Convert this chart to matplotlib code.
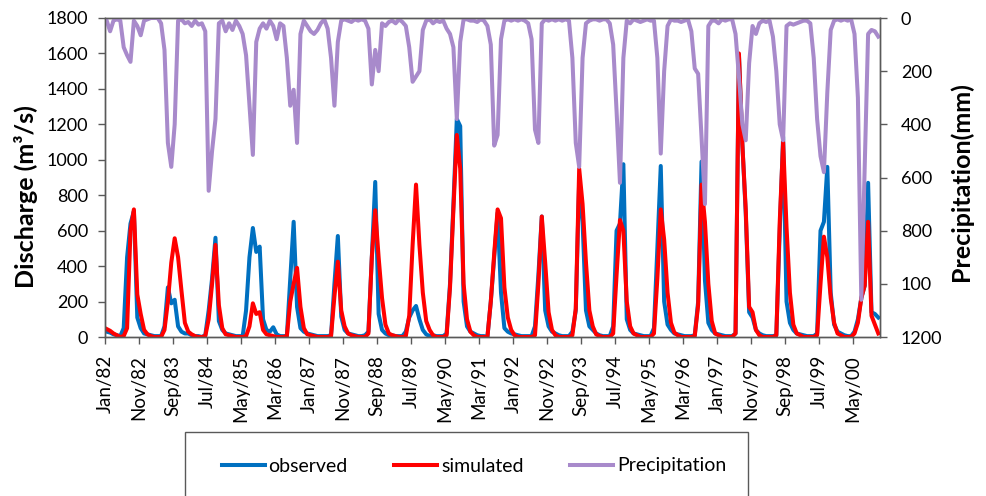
import matplotlib
matplotlib.use('Agg')
import matplotlib.pyplot as plt
import numpy as np
from matplotlib.patches import Rectangle

plt.rcParams['font.family'] = ['Lato', 'DejaVu Sans']

# monthly values, Jan 1982 .. Dec 2000 (one row per year)
observed = [
    30, 25, 15, 10, 5, 50, 450, 640, 710, 110, 50, 20,
    15, 10, 5, 5, 5, 60, 280, 190, 210, 60, 30, 20,
    20, 10, 5, 5, 0, 10, 150, 330, 560, 90, 40, 20,
    15, 10, 5, 5, 5, 150, 450, 615, 480, 510, 100, 40,
    30, 55, 15, 5, 5, 5, 330, 650, 170, 50, 30, 20,
    15, 10, 5, 5, 5, 5, 10, 300, 570, 115, 40, 20,
    15, 10, 5, 5, 10, 30, 450, 875, 130, 40, 20, 10,
    10, 5, 5, 5, 30, 110, 150, 175, 100, 40, 15, 5,
    10, 5, 5, 5, 20, 300, 750, 1230, 1190, 200, 60, 30,
    20, 10, 5, 5, 0, 200, 450, 700, 250, 50, 30, 20,
    15, 10, 5, 5, 5, 5, 60, 350, 680, 150, 60, 30,
    20, 10, 5, 5, 5, 30, 150, 880, 650, 150, 60, 40,
    20, 10, 5, 5, 5, 60, 600, 640, 975, 100, 40, 20,
    15, 10, 5, 5, 5, 50, 500, 965, 200, 70, 40, 20,
    15, 10, 5, 5, 5, 10, 200, 990, 320, 80, 40, 20,
    15, 10, 5, 5, 5, 20, 1590, 1090, 700, 140, 110, 40,
    20, 10, 5, 5, 5, 10, 600, 1130, 200, 80, 40, 20,
    15, 10, 5, 5, 5, 20, 600, 650, 960, 250, 70, 30,
    20, 10, 5, 5, 30, 100, 220, 290, 870, 140, 130, 110,
]

simulated = [
    45, 35, 20, 10, 0, 5, 50, 600, 720, 240, 130, 40,
    15, 5, 0, 0, 0, 40, 200, 420, 557, 450, 260, 80,
    30, 15, 5, 0, 0, 5, 100, 300, 520, 180, 50, 15,
    10, 5, 0, 0, 0, 5, 60, 190, 130, 140, 40, 15,
    10, 5, 0, 0, 0, 5, 200, 300, 390, 170, 50, 15,
    10, 5, 0, 0, 0, 0, 5, 230, 425, 150, 60, 20,
    10, 5, 0, 0, 0, 20, 450, 715, 450, 220, 70, 20,
    10, 5, 0, 0, 5, 120, 520, 860, 520, 250, 90, 40,
    10, 0, 0, 0, 10, 280, 720, 1140, 950, 300, 100, 30,
    10, 0, 0, 0, 0, 200, 470, 720, 670, 280, 110, 40,
    10, 0, 0, 0, 0, 0, 10, 300, 680, 420, 140, 40,
    10, 0, 0, 0, 0, 10, 160, 950, 750, 420, 150, 60,
    15, 5, 0, 0, 0, 20, 350, 660, 600, 200, 60, 20,
    10, 0, 0, 0, 0, 20, 330, 720, 550, 250, 80, 25,
    10, 0, 0, 0, 0, 5, 180, 860, 650, 300, 90, 20,
    10, 0, 0, 0, 0, 20, 1600, 1090, 720, 170, 140, 40,
    10, 0, 0, 0, 0, 10, 650, 1100, 620, 250, 70, 20,
    10, 0, 0, 0, 0, 10, 300, 566, 450, 220, 80, 20,
    10, 0, 0, 0, 20, 80, 220, 290, 650, 120, 70, 20,
]

precipitation = [
    10, 50, 10, 5, 10, 110, 140, 165, 10, 30, 65, 10,
    5, 0, 0, 0, 20, 120, 470, 560, 400, 10, 5, 20,
    15, 30, 10, 25, 20, 50, 650, 500, 380, 20, 10, 50,
    20, 45, 10, 30, 60, 140, 330, 515, 90, 40, 20, 40,
    10, 30, 80, 20, 30, 150, 330, 270, 470, 60, 10, 30,
    50, 60, 45, 20, 5, 40, 150, 330, 90, 10, 5, 10,
    15, 5, 10, 5, 10, 40, 250, 120, 200, 20, 30, 15,
    10, 20, 5, 15, 30, 110, 240, 220, 200, 45, 10, 5,
    20, 10, 15, 10, 40, 60, 110, 380, 90, 5, 5, 10,
    10, 15, 5, 10, 30, 100, 480, 440, 80, 10, 5, 10,
    5, 10, 5, 10, 20, 80, 420, 470, 20, 5, 10, 5,
    10, 5, 10, 5, 10, 150, 470, 560, 150, 20, 10, 5,
    5, 10, 5, 5, 20, 100, 350, 620, 150, 10, 20, 5,
    10, 15, 10, 5, 10, 10, 150, 510, 200, 30, 5, 10,
    10, 15, 10, 5, 50, 190, 210, 450, 700, 30, 10, 10,
    20, 5, 10, 5, 5, 60, 220, 400, 460, 170, 30, 60,
    20, 10, 15, 10, 70, 200, 400, 460, 30, 20, 25, 20,
    15, 10, 10, 20, 150, 380, 520, 580, 280, 45, 10, 5,
    10, 5, 10, 5, 60, 300, 1060, 560, 60, 45, 50, 70,
]

tick_labels = ['Jan/82', 'Nov/82', 'Sep/83', 'Jul/84', 'May/85', 'Mar/86',
               'Jan/87', 'Nov/87', 'Sep/88', 'Jul/89', 'May/90', 'Mar/91',
               'Jan/92', 'Nov/92', 'Sep/93', 'Jul/94', 'May/95', 'Mar/96',
               'Jan/97', 'Nov/97', 'Sep/98', 'Jul/99', 'May/00']
precip_tick_labels = ['0', '200', '400', '600', '800', '100', '1200']

W, H = 986, 496
fig = plt.figure(figsize=(W / 100, H / 100), dpi=100)
ax = fig.add_axes([105 / W, 1 - 337 / H, 775 / W, 319 / H])

x = np.arange(len(observed)) + 0.5
l1, = ax.plot(x, observed, color='#0070C0', lw=2.9, label='observed')
l2, = ax.plot(x, simulated, color='#FF0000', lw=2.9, label='simulated')

ax2 = ax.twinx()
l3, = ax2.plot(x, precipitation, color='#A88ACB', lw=2.9, label='Precipitation')

ax.set_xlim(0, len(observed))
ax.set_ylim(0, 1800)
ax2.set_ylim(1200, 0)

ax.set_yticks(range(0, 1801, 200))
ax2.set_yticks(range(0, 1201, 200))
ax2.set_yticklabels(precip_tick_labels)
ax.set_xticks(range(0, 10 * len(tick_labels), 10))
ax.set_xticklabels(tick_labels, rotation=90)

for a in (ax, ax2):
    for s in a.spines.values():
        s.set_color('#595959')
        s.set_linewidth(1)
    a.tick_params(length=5, width=1, color='#595959', labelsize=13, labelcolor='black')
ax.tick_params(axis='x', labelsize=13.5, pad=8)
ax.tick_params(axis='y', pad=7)
ax2.tick_params(axis='y', pad=10)

ax.set_ylabel('Discharge (m³/s)', fontsize=18, fontweight='bold')
ax.yaxis.set_label_coords(-0.086, 0.44)
ax2.set_ylabel('Precipitation(mm)', fontsize=18, fontweight='bold', rotation=90)
ax2.yaxis.set_label_coords(1.09, 0.486)

fig.legend([l1, l2, l3], ['observed', 'simulated', 'Precipitation'],
           loc='center', bbox_to_anchor=(474 / W, 1 - 466 / H), ncol=3,
           frameon=False, fontsize=14, handlelength=2.2, handletextpad=0.2,
           columnspacing=2.4)
fig.add_artist(Rectangle((185 / W, -0.05), (748 - 185) / W, 0.05 + 1 - 432 / H,
                         transform=fig.transFigure, fill=False,
                         edgecolor='#595959', lw=1, clip_on=False))

fig.savefig('out.png', dpi=100)
